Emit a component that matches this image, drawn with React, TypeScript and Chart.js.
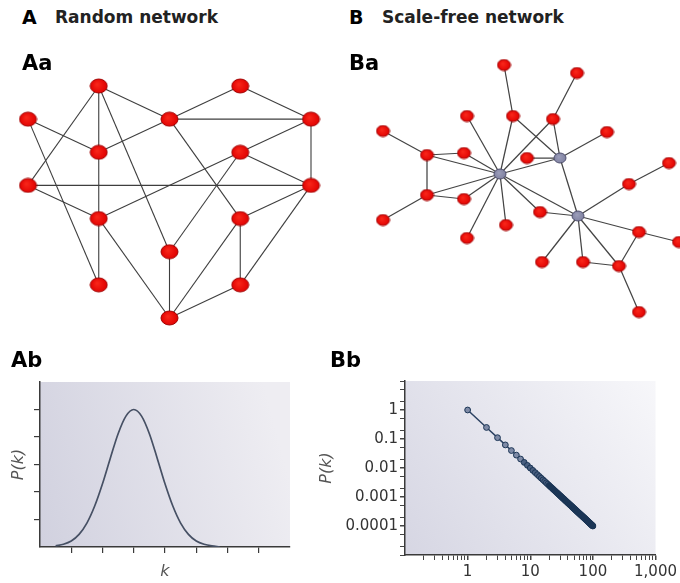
import React, { useEffect, useRef } from 'react';
import { Chart, registerables } from 'chart.js';

Chart.register(...registerables);

// ---------- Aa: random network (grid layout: column, row) ----------
const randomNodeCol = [1, 3, 0, 2, 4, 1, 3, 0, 4, 1, 3, 2, 1, 3, 2];
const randomNodeRow = [0, 0, 1, 1, 1, 2, 2, 3, 3, 4, 4, 5, 6, 6, 7];
const randomEdges: [number, number][] = [
  [0, 3], [0, 5], [0, 7], [0, 11], [1, 3], [1, 4], [2, 5], [2, 12], [3, 4],
  [3, 5], [3, 10], [4, 6], [4, 8], [5, 9], [6, 8], [6, 9], [6, 11], [7, 8],
  [7, 9], [8, 10], [8, 13], [9, 12], [9, 14], [10, 13], [10, 14], [11, 14], [13, 14],
];

// ---------- Ba: scale-free network (layout units) ----------
const sfNodeX = [160, 220, 238, 164, 237, 127, 173, 213, 43, 267, 87, 124, 187, 329, 289, 87, 124, 200, 43, 166, 127, 299, 339, 202, 243, 279, 299];
const sfNodeY = [174, 158, 216, 65, 73, 116, 116, 119, 131, 132, 155, 153, 158, 163, 184, 195, 199, 212, 220, 225, 238, 232, 242, 262, 262, 266, 312];
const sfNodeIsHub = [true, true, true, false, false, false, false, false, false, false, false, false, false, false, false, false, false, false, false, false, false, false, false, false, false, false, false];
const sfEdges: [number, number][] = [
  [3, 6], [4, 7], [5, 0], [6, 0], [6, 1], [7, 0], [7, 1], [8, 10], [9, 1],
  [10, 11], [10, 0], [10, 15], [11, 0], [12, 1], [0, 1], [0, 15], [0, 16],
  [0, 17], [0, 19], [0, 20], [0, 2], [1, 2], [15, 16], [15, 18], [17, 2],
  [14, 2], [13, 14], [2, 21], [21, 22], [21, 25], [2, 23], [2, 24], [2, 25],
  [24, 25], [25, 26],
];

// ---------- Ab: Poisson-like degree distribution ----------
const gaussK = [0.5, 0.75, 1, 1.25, 1.5, 1.75, 2, 2.25, 2.5, 2.75, 3, 3.25, 3.5, 3.75, 4, 4.25, 4.5, 4.75, 5, 5.25, 5.5, 5.75];
const gaussP = [0.04, 0.1, 0.22, 0.46, 0.87, 1.49, 2.3, 3.23, 4.12, 4.76, 5.0, 4.76, 4.12, 3.23, 2.3, 1.49, 0.87, 0.46, 0.22, 0.1, 0.04, 0.01];
const abXTickValues = [1, 2, 3, 4, 5, 6, 7];
const abYTickValues = [1, 2, 3, 4, 5];

// ---------- Bb: power-law degree distribution ----------
const plK = [
  1, 2, 3, 4, 5, 6, 7, 8, 9, 10, 11, 12, 13, 14, 15, 16, 17, 18, 19, 20,
  21, 22, 23, 24, 25, 26, 27, 28, 29, 30, 31, 32, 33, 34, 35, 36, 37, 38, 39, 40,
  41, 42, 43, 44, 45, 46, 47, 48, 49, 50, 51, 52, 53, 54, 55, 56, 57, 58, 59, 60,
  61, 62, 63, 64, 65, 66, 67, 68, 69, 70, 71, 72, 73, 74, 75, 76, 77, 78, 79, 80,
  81, 82, 83, 84, 85, 86, 87, 88, 89, 90, 91, 92, 93, 94, 95, 96, 97, 98, 99, 100,
];
const plP = [
  1, 0.25, 0.1111, 0.0625, 0.04, 0.02778, 0.02041, 0.01563, 0.01235, 0.01,
  0.008264, 0.006944, 0.005917, 0.005102, 0.004444, 0.003906, 0.00346, 0.003086, 0.00277, 0.0025,
  0.002268, 0.002066, 0.00189, 0.001736, 0.0016, 0.001479, 0.001372, 0.001276, 0.001189, 0.001111,
  0.001041, 0.000977, 0.000918, 0.000865, 0.000816, 0.000772, 0.00073, 0.000693, 0.000657, 0.000625,
  0.000595, 0.000567, 0.000541, 0.000517, 0.000494, 0.000473, 0.000453, 0.000434, 0.000416, 0.0004,
  0.000384, 0.00037, 0.000356, 0.000343, 0.000331, 0.000319, 0.000308, 0.000297, 0.000287, 0.000278,
  0.000269, 0.00026, 0.000252, 0.000244, 0.000237, 0.00023, 0.000223, 0.000216, 0.00021, 0.000204,
  0.000198, 0.000193, 0.000188, 0.000183, 0.000178, 0.000173, 0.000169, 0.000164, 0.00016, 0.000156,
  0.000152, 0.000149, 0.000145, 0.000142, 0.000138, 0.000135, 0.000132, 0.000129, 0.000126, 0.000123,
  0.000121, 0.000118, 0.000115, 0.000113, 0.000111, 0.000109, 0.000106, 0.000104, 0.000102, 0.0001,
];
const bbXDecades = [0.1, 1, 10, 100];
const bbXMultipliers = [1, 2, 3, 4, 5, 6, 7, 8, 9];
const bbXMajor = [1, 10, 100, 1000];
const bbXLabels = ['1', '10', '100', '1,000'];
const bbYDecades = [1e-5, 1e-4, 1e-3, 1e-2, 1e-1, 1];
const bbYMultipliers = [1, 2, 5];
const bbYMajor = [1e-4, 1e-3, 1e-2, 1e-1, 1];
const bbYLabels = ['0.0001', '0.001', '0.01', '0.1', '1'];

const FONT = 'DejaVu Sans';

const plotBg = {
  id: 'plotBg',
  beforeDraw(chart: any, _args: any, opts: any) {
    if (!opts || !opts.colors) return;
    const { ctx, chartArea: a } = chart;
    const g = ctx.createLinearGradient(a.left, a.bottom, a.right, a.top - (a.bottom - a.top) * (opts.tilt || 0));
    g.addColorStop(0, opts.colors[0]);
    g.addColorStop(1, opts.colors[1]);
    ctx.save();
    ctx.fillStyle = g;
    ctx.fillRect(a.left, a.top, a.right - a.left, a.bottom - a.top);
    ctx.restore();
  },
};

function makeNode(w: number, h: number, light: string, fill: string, edge: string) {
  const c = document.createElement('canvas');
  c.width = w + 2;
  c.height = h + 2;
  const g = c.getContext('2d')!;
  const cx = c.width / 2;
  const cy = c.height / 2;
  const grad = g.createRadialGradient(cx - w * 0.1, cy - h * 0.12, 0.5, cx, cy, w / 2);
  grad.addColorStop(0, light);
  grad.addColorStop(1, fill);
  g.beginPath();
  g.ellipse(cx, cy, w / 2, h / 2, 0, 0, Math.PI * 2);
  g.fillStyle = grad;
  g.fill();
  g.lineWidth = 1;
  g.strokeStyle = edge;
  g.stroke();
  return c;
}

function matchIndex(list: number[], v: number) {
  return list.findIndex((m) => Math.abs(m - v) / m < 1e-6);
}

function networkConfig(xs: number[], ys: number[], edges: [number, number][], styles: any[], xr: [number, number], yr: [number, number], edgeColor: string, edgeWidth: number) {
  const pts = xs.map((x, i) => ({ x, y: ys[i] }));
  return {
    type: 'scatter',
    data: {
      datasets: [
        {
          data: pts,
          pointStyle: styles,
          pointRadius: 6,
          order: 0,
          clip: false,
        },
        ...edges.map(([a, b]) => ({
          data: [pts[a], pts[b]],
          showLine: true,
          borderColor: edgeColor,
          borderWidth: edgeWidth,
          pointRadius: 0,
          order: 1,
          clip: false,
        })),
      ],
    },
    options: {
      responsive: false,
      animation: false,
      events: [],
      layout: { padding: 0, autoPadding: false },
      plugins: { legend: { display: false }, tooltip: { enabled: false } },
      scales: {
        x: { type: 'linear', display: false, min: xr[0], max: xr[1] },
        y: { type: 'linear', display: false, min: yr[0], max: yr[1], reverse: true },
      },
    },
  } as any;
}

export default function App() {
  const aaRef = useRef<HTMLCanvasElement>(null);
  const baRef = useRef<HTMLCanvasElement>(null);
  const abRef = useRef<HTMLCanvasElement>(null);
  const bbRef = useRef<HTMLCanvasElement>(null);

  useEffect(() => {
    Chart.defaults.font.family = FONT;
    const charts: Chart[] = [];

    const redBig = makeNode(17, 14, '#f8261a', '#e00000', '#a00000');
    const redSmall = makeNode(13, 11, '#f8261a', '#e00000', '#a00000');
    const hub = makeNode(12, 10, '#9a9cb8', '#7e80a0', '#50506e');

    // Aa
    charts.push(
      new Chart(
        aaRef.current!,
        networkConfig(
          randomNodeCol,
          randomNodeRow,
          randomEdges,
          randomNodeCol.map(() => redBig),
          [-28 / 70.75, (340 - 28) / 70.75],
          [-46 / 33.14, (300 - 46) / 33.14],
          '#3e3e3e',
          1.1
        )
      )
    );

    // Ba
    charts.push(
      new Chart(
        baRef.current!,
        networkConfig(
          sfNodeX,
          sfNodeY,
          sfEdges,
          sfNodeIsHub.map((h) => (h ? hub : redSmall)),
          [0, 340],
          [40, 340],
          '#444',
          1.25
        )
      )
    );

    // Ab
    charts.push(
      new Chart(abRef.current!, {
        type: 'scatter',
        data: {
          datasets: [
            {
              data: gaussK.map((k, i) => ({ x: k, y: gaussP[i] })),
              showLine: true,
              borderColor: '#465064',
              borderWidth: 1.7,
              pointRadius: 0,
              cubicInterpolationMode: 'monotone',
            },
          ],
        },
        options: {
          responsive: false,
          animation: false,
          events: [],
          layout: { padding: { top: 12, right: 20, left: 0, bottom: 0 }, autoPadding: false },
          plugins: {
            legend: { display: false },
            tooltip: { enabled: false },
            plotBg: { colors: ['#d1d1df', '#eeedf2'], tilt: -0.6 },
          },
          scales: {
            x: {
              type: 'linear',
              min: 0,
              max: 8,
              afterFit: (s: any) => { s.height = 36; },
              afterBuildTicks: (s: any) => { s.ticks = abXTickValues.map((v) => ({ value: v })); },
              ticks: { display: false },
              grid: { drawOnChartArea: false, drawTicks: true, tickLength: 6, color: '#3a3a3a', lineWidth: 1.2 },
              border: { display: true, color: '#3a3a3a', width: 1.5 },
              title: {
                display: true,
                text: 'k',
                color: '#555',
                font: { family: FONT, size: 16, style: 'italic' },
                padding: { top: 0, bottom: 2 },
              },
            },
            y: {
              type: 'linear',
              min: 0,
              max: 6,
              afterFit: (s: any) => { s.width = 40; },
              afterBuildTicks: (s: any) => { s.ticks = abYTickValues.map((v) => ({ value: v })); },
              ticks: { display: false },
              grid: { drawOnChartArea: false, drawTicks: true, tickLength: 6, color: '#3a3a3a', lineWidth: 1.2 },
              border: { display: true, color: '#3a3a3a', width: 1.5 },
              title: {
                display: true,
                text: 'P(k)',
                color: '#555',
                font: { family: FONT, size: 16, style: 'italic' },
                padding: { top: 9, bottom: 0 },
              },
            },
          },
        },
        plugins: [plotBg],
      } as any)
    );

    // Bb
    const xTicks: number[] = [];
    bbXDecades.forEach((d) => bbXMultipliers.forEach((m) => xTicks.push(d * m)));
    xTicks.push(1000);
    const xTicksUsed = xTicks.filter((v) => v > 0.1 + 1e-9);
    const yTicks: number[] = [];
    bbYDecades.forEach((d) => bbYMultipliers.forEach((m) => yTicks.push(d * m)));
    yTicks.push(10);

    charts.push(
      new Chart(bbRef.current!, {
        type: 'scatter',
        data: {
          datasets: [
            {
              data: plK.map((k, i) => ({ x: k, y: plP[i] })),
              showLine: true,
              borderColor: '#2c4262',
              borderWidth: 1.5,
              pointRadius: 2.9,
              pointBorderWidth: 1,
              pointBorderColor: '#1c3656',
              pointBackgroundColor: (ctx: any) => {
                const k = ctx.raw ? ctx.raw.x : 1;
                return k < 8 ? '#7e8aa6' : k < 20 ? '#4a5f80' : '#1b3656';
              },
            },
          ],
        },
        options: {
          responsive: false,
          animation: false,
          events: [],
          layout: { padding: { top: 7, right: 18, left: 0, bottom: 0 }, autoPadding: false },
          plugins: {
            legend: { display: false },
            tooltip: { enabled: false },
            plotBg: { colors: ['#d6d6e3', '#f7f7fa'], tilt: 0 },
          },
          scales: {
            x: {
              type: 'logarithmic',
              min: 0.1,
              max: 1000,
              afterFit: (s: any) => { s.height = 28; },
              afterBuildTicks: (s: any) => { s.ticks = xTicksUsed.map((v) => ({ value: v })); },
              ticks: {
                autoSkip: false,
                maxRotation: 0,
                padding: 3,
                color: '#333',
                font: { family: FONT, size: 15 },
                callback: (v: any) => {
                  const i = matchIndex(bbXMajor, Number(v));
                  return i >= 0 ? bbXLabels[i] : '';
                },
              },
              grid: {
                drawOnChartArea: false,
                drawTicks: true,
                tickLength: 5,
                color: '#444',
                lineWidth: (ctx: any) => (ctx.tick && matchIndex(bbXMajor, ctx.tick.value) >= 0 ? 1.5 : 1),
              },
              border: { display: true, color: '#3a3a3a', width: 1.5 },
            },
            y: {
              type: 'logarithmic',
              min: 1e-5,
              max: 10,
              afterFit: (s: any) => { s.width = 95; },
              afterBuildTicks: (s: any) => { s.ticks = yTicks.map((v) => ({ value: v })); },
              ticks: {
                autoSkip: false,
                padding: 2,
                color: '#333',
                font: { family: FONT, size: 15 },
                callback: (v: any) => {
                  const i = matchIndex(bbYMajor, Number(v));
                  return i >= 0 ? bbYLabels[i] : '';
                },
              },
              grid: {
                drawOnChartArea: false,
                drawTicks: true,
                tickLength: 5,
                color: '#444',
                lineWidth: (ctx: any) => (ctx.tick && matchIndex(bbYMajor, ctx.tick.value) >= 0 ? 1.5 : 1),
              },
              border: { display: true, color: '#3a3a3a', width: 1.5 },
              title: {
                display: true,
                text: 'P(k)',
                color: '#555',
                font: { family: FONT, size: 16, style: 'italic' },
                padding: { top: 7, bottom: 0 },
              },
            },
          },
        },
        plugins: [plotBg],
      } as any)
    );

    return () => charts.forEach((c) => c.destroy());
  }, []);

  const label = (text: string, left: number, baseline: number, size: number, color: string, key: string) => (
    <div
      key={key}
      style={{
        position: 'absolute',
        left,
        top: baseline - size * 0.85,
        fontFamily: FONT,
        fontWeight: 'bold',
        fontSize: size,
        lineHeight: `${size}px`,
        color,
        whiteSpace: 'nowrap',
      }}
    >
      {text}
    </div>
  );

  return (
    <div style={{ position: 'absolute', left: 0, top: 0, width: 680, height: 583, background: '#fff', overflow: 'hidden' }}>
      <canvas ref={aaRef} width={340} height={300} style={{ position: 'absolute', left: 0, top: 40 }} />
      <canvas ref={baRef} width={340} height={300} style={{ position: 'absolute', left: 340, top: 40 }} />
      <canvas ref={abRef} width={310} height={213} style={{ position: 'absolute', left: 0, top: 370 }} />
      <canvas ref={bbRef} width={370} height={213} style={{ position: 'absolute', left: 310, top: 370 }} />
      {label('A', 22, 24, 19, '#000', 'A')}
      {label('Random network', 55, 23, 17, '#222', 'An')}
      {label('B', 349, 24, 19, '#000', 'B')}
      {label('Scale-free network', 382, 23, 17, '#222', 'Bn')}
      {label('Aa', 22, 71, 21, '#000', 'Aa')}
      {label('Ba', 349, 71, 21, '#000', 'Ba')}
      {label('Ab', 11, 368, 21, '#000', 'Ab')}
      {label('Bb', 330, 368, 21, '#000', 'Bb')}
    </div>
  );
}
